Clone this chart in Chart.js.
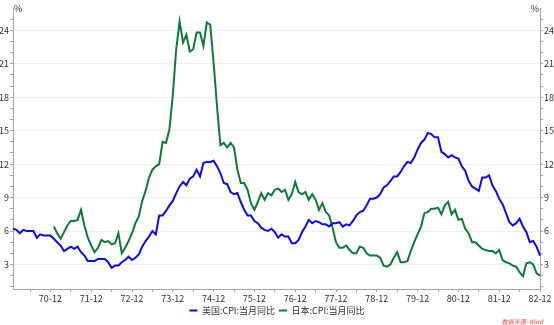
<!DOCTYPE html>
<html><head><meta charset="utf-8">
<script src="https://cdn.jsdelivr.net/npm/chart.js@4/dist/chart.umd.min.js"></script>
<style>html,body{margin:0;padding:0;background:#fff}</style>
</head><body>
<canvas id="c" width="554" height="325" style="width:554px;height:325px;display:block"></canvas>
<script>
// ---- data ----
const years = ['70','71','72','73','74','75','76','77','78','79','80','81','82'];
const months = ['01','02','03','04','05','06','07','08','09','10','11','12'];
const categories = [];
years.forEach(y => months.forEach(m => categories.push(y + '-' + m)));

const seriesNames = ['美国:CPI:当月同比', '日本:CPI:当月同比'];

const usCPI = [
  6.2, 6.1, 5.8, 6.1, 6.0, 6.0, 6.0, 5.4, 5.7, 5.6, 5.6, 5.6,   // 1970
  5.3, 5.0, 4.7, 4.2, 4.4, 4.6, 4.4, 4.6, 4.1, 3.8, 3.3, 3.3,   // 1971
  3.3, 3.5, 3.5, 3.5, 3.2, 2.7, 2.9, 2.9, 3.2, 3.4, 3.7, 3.4,   // 1972
  3.6, 3.9, 4.6, 5.1, 5.5, 6.0, 5.7, 7.4, 7.4, 7.8, 8.3, 8.7,   // 1973
  9.4, 10.0, 10.4, 10.1, 10.7, 10.9, 11.5, 10.9, 12.1, 12.2, 12.2, 12.3, // 1974
  11.8, 11.2, 10.3, 10.2, 9.5, 9.3, 9.4, 8.6, 7.9, 7.4, 7.4, 6.9, // 1975
  6.7, 6.3, 6.1, 6.0, 6.2, 5.9, 5.4, 5.7, 5.5, 5.5, 4.9, 4.9,   // 1976
  5.2, 5.9, 6.4, 7.0, 6.7, 6.9, 6.8, 6.6, 6.6, 6.4, 6.7, 6.7,   // 1977
  6.8, 6.4, 6.6, 6.5, 6.9, 7.4, 7.7, 7.8, 8.3, 8.9, 8.9, 9.0,   // 1978
  9.3, 9.9, 10.1, 10.5, 10.9, 10.9, 11.3, 11.8, 12.2, 12.1, 12.6, 13.3, // 1979
  13.9, 14.2, 14.8, 14.7, 14.4, 14.4, 13.1, 12.9, 12.6, 12.8, 12.6, 12.5, // 1980
  11.8, 11.4, 10.5, 10.0, 9.8, 9.6, 10.8, 10.8, 11.0, 10.1, 9.6, 8.9, // 1981
  8.4, 7.6, 6.8, 6.5, 6.7, 7.1, 6.4, 5.9, 5.0, 5.1, 4.6, 3.8    // 1982
];

const jpCPI = [
  null, null, null, null, null, null, null, null, null, null, null, null, // 1970
  6.4, 5.8, 5.3, 5.9, 6.5, 6.9, 6.9, 7.0, 7.9, 6.5, 5.4, 4.7,   // 1971
  4.1, 4.5, 5.2, 5.0, 5.1, 4.8, 4.9, 5.8, 4.0, 4.5, 5.1, 5.8,   // 1972
  6.7, 7.3, 8.7, 9.6, 10.8, 11.5, 11.8, 12.0, 14.0, 13.9, 15.1, 18.2, // 1973
  22.3, 24.8, 22.9, 23.6, 22.1, 22.3, 23.8, 23.8, 22.6, 24.7, 24.5, 21.1, // 1974
  17.2, 13.7, 13.9, 13.5, 13.9, 13.5, 11.5, 10.3, 10.3, 9.7, 8.5, 7.9, // 1975
  8.6, 9.4, 8.8, 9.4, 9.2, 9.7, 9.8, 9.5, 9.7, 8.8, 9.3, 10.4,  // 1976
  9.5, 9.3, 9.5, 8.8, 9.3, 8.8, 7.9, 8.5, 7.7, 7.4, 6.3, 5.0,   // 1977
  4.5, 4.5, 4.7, 4.3, 4.0, 4.0, 4.6, 4.5, 4.0, 3.8, 3.8, 3.8,   // 1978
  3.6, 2.9, 2.8, 3.0, 3.6, 4.1, 3.2, 3.2, 3.3, 4.2, 5.0, 5.7,   // 1979
  6.4, 7.6, 7.7, 8.0, 8.0, 8.1, 7.5, 8.3, 8.6, 7.5, 7.9, 7.0,   // 1980
  7.1, 6.2, 5.8, 5.0, 5.0, 4.7, 4.4, 4.3, 4.2, 4.2, 4.0, 4.3,   // 1981
  3.4, 3.2, 3.1, 2.9, 2.8, 2.3, 1.95, 3.1, 3.2, 3.0, 2.2, 2.0   // 1982
];

const yLabelValues = [3, 6, 9, 12, 15, 18, 21, 24];
const yMin = 0.8, yMax = 26;
const unitLabel = '%';
const sourceText = '数据来源: Wind';

// ---- styling ----
const FONT = '"Noto Sans CJK SC", "Noto Sans", sans-serif';
const TXT = '#333333';
const AXIS = '#a6a6a6';

function yAxis(pos) {
  return {
    type: 'linear', position: pos, min: yMin, max: yMax,
    afterBuildTicks: s => {
      const t = [];
      for (let v = 1; v <= 25; v++) t.push({ value: v });
      s.ticks = t;
    },
    ticks: {
      autoSkip: false, padding: 1, color: TXT,
      font: { family: FONT, size: 9 },
      callback: v => yLabelValues.includes(v) ? String(v) : ''
    },
    grid: {
      drawOnChartArea: pos === 'left',
      color: ctx => (ctx.tick && yLabelValues.includes(ctx.tick.value)) ? '#efefef' : 'rgba(0,0,0,0)',
      tickColor: AXIS, tickLength: 3, lineWidth: 1
    },
    border: { display: true, color: AXIS, width: 1 },
    afterFit: s => { s.width = pos === 'left' ? 13 : 14; }
  };
}

const overlay = {
  id: 'overlay',
  afterDraw(chart) {
    const { ctx, chartArea } = chart;
    ctx.save();
    ctx.fillStyle = TXT;
    ctx.font = '9px ' + FONT;
    ctx.textBaseline = 'middle';
    ctx.textAlign = 'left';
    ctx.fillText(unitLabel, chartArea.left + 1, chartArea.top + 1);
    ctx.textAlign = 'right';
    ctx.fillText(unitLabel, chartArea.right - 1, chartArea.top + 1);
    ctx.fillStyle = '#ff3b3b';
    ctx.font = 'italic 6px ' + FONT;
    ctx.textAlign = 'right';
    ctx.fillText(sourceText, chartArea.right + 3, 322);
    ctx.restore();
  }
};

new Chart(document.getElementById('c'), {
  type: 'line',
  data: {
    labels: categories,
    datasets: [
      { label: seriesNames[0], data: usCPI, borderColor: '#0a0af5', backgroundColor: '#0a0af5',
        borderWidth: 2, pointRadius: 0, tension: 0, yAxisID: 'y' },
      { label: seriesNames[1], data: jpCPI, borderColor: '#0b7b38', backgroundColor: '#0b7b38',
        borderWidth: 2, pointRadius: 0, tension: 0, yAxisID: 'y', spanGaps: false }
    ]
  },
  options: {
    responsive: false, animation: false, devicePixelRatio: 1,
    layout: { padding: { top: 8, left: 0, right: 0, bottom: 0 } },
    plugins: {
      legend: {
        position: 'bottom',
        labels: {
          boxWidth: 8, boxHeight: 2, padding: 4, color: TXT, font: { family: FONT, size: 9 },
          generateLabels: chart => Chart.defaults.plugins.legend.labels.generateLabels(chart)
            .map(l => Object.assign(l, { lineWidth: 0 }))
        }
      },
      tooltip: { enabled: false }
    },
    scales: {
      x: {
        type: 'category', offset: false,
        ticks: {
          autoSkip: false, maxRotation: 0, minRotation: 0, padding: 1, color: TXT,
          font: { family: FONT, size: 9 },
          callback: function (v, i) { const l = categories[i]; return l.endsWith('-12') ? l : ''; }
        },
        grid: {
          drawOnChartArea: false,
          tickColor: ctx => (ctx.index % 6 === 5) ? AXIS : 'rgba(0,0,0,0)',
          tickLength: 3
        },
        border: { display: true, color: AXIS, width: 1 },
        afterFit: s => { s.height = 13; }
      },
      y: yAxis('left'),
      y2: yAxis('right')
    }
  },
  plugins: [overlay]
});
</script>
</body></html>
